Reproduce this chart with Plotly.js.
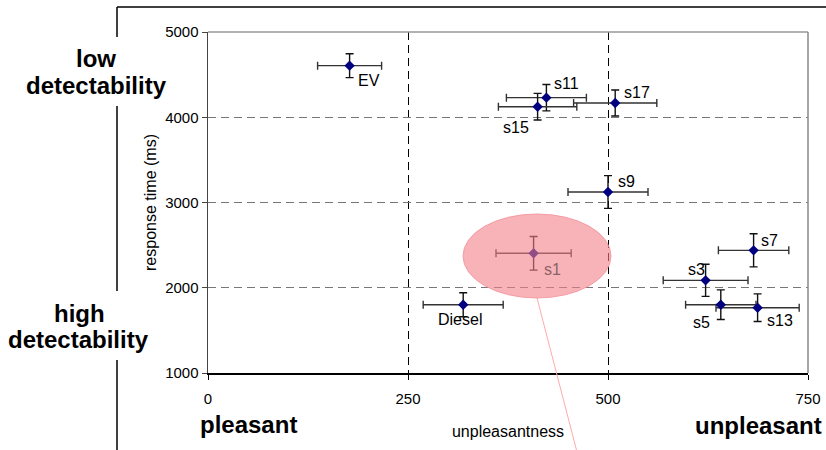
<!DOCTYPE html>
<html>
<head>
<meta charset="utf-8">
<script src="https://cdn.plot.ly/plotly-3.0.1.min.js"></script>
<style>html,body{margin:0;padding:0;background:#fff;}#chart{width:826px;height:450px;}</style>
</head>
<body>
<div id="chart"></div>
<script>
// ---- data ----
const names = ["EV", "s11", "s15", "s17", "s9", "s1", "Diesel", "s7", "s3", "s5", "s13"];
const unpleasantness = [177, 423, 412, 509, 500, 407, 319, 682, 622, 641, 687];
const responseTime = [4605, 4230, 4124, 4167, 3123, 2404, 1801, 2439, 2087, 1801, 1766];
const unpleasantnessErr = [40, 50, 49, 52, 50, 47, 50, 44, 53, 44, 52];
const responseTimeErr = [140, 155, 156, 152, 192, 197, 141, 194, 188, 174, 162];
const xTicks = [0, 250, 500, 750];
const yTicks = [1000, 2000, 3000, 4000, 5000];
const xTitle = "unpleasantness";
const yTitle = "response time (ms)";

// ---- label placement (pixel offsets from each point) ----
const labelShift = {
  "EV": [19, -15], "s11": [20, 14], "s15": [-22, -21], "s17": [22, 11],
  "s9": [18, 11], "s1": [19, -16], "Diesel": [-3, -15], "s7": [16, 10],
  "s3": [-9, 11], "s5": [-19, -18], "s13": [22, -13]
};

const FONT = "Arial, 'Liberation Sans', sans-serif";

const trace = {
  type: "scatter",
  mode: "markers",
  x: unpleasantness,
  y: responseTime,
  text: names,
  marker: {symbol: "diamond", size: 8, color: "#000080"},
  error_x: {type: "data", array: unpleasantnessErr, visible: true, color: "#333", thickness: 1.4, width: 4},
  error_y: {type: "data", array: responseTimeErr, visible: true, color: "#111", thickness: 1.4, width: 4},
  hoverinfo: "text+x+y",
  showlegend: false
};

const annotations = names.map((n, i) => ({
  xref: "x", yref: "y", x: unpleasantness[i], y: responseTime[i],
  text: n, showarrow: false,
  xshift: labelShift[n][0], yshift: labelShift[n][1],
  font: {family: FONT, size: 16, color: n === "s1" ? "#8a6268" : "#000"}
}));

function px2paperX(p) { return (p - 208) / 600; }
function px2paperY(p) { return (373 - p) / 341; }

[
  ["low", 96, 58], ["detectability", 96.5, 85],
  ["high", 79, 313], ["detectability", 78, 339],
  ["pleasant", 248, 424], ["unpleasant", 758, 425]
].forEach(([t, px, py]) => {
  annotations.push({
    xref: "paper", yref: "paper", x: px2paperX(px), y: px2paperY(py),
    xanchor: "center", yanchor: "middle", text: "<b>" + t + "</b>", showarrow: false,
    font: {family: FONT, size: 24, color: "#000"}
  });
});

const shapes = [
  // plot-area border (top and right) in gray
  {type: "line", xref: "paper", yref: "paper", x0: 0, x1: 1, y0: 1, y1: 1, line: {color: "#999", width: 1.5}, layer: "above"},
  {type: "line", xref: "paper", yref: "paper", x0: 1, x1: 1, y0: 0, y1: 1, line: {color: "#888", width: 1.5}, layer: "above"},
  // outer frame lines
  {type: "line", xref: "paper", yref: "paper", x0: px2paperX(117), x1: px2paperX(826), y0: px2paperY(7), y1: px2paperY(7), line: {color: "#000", width: 1.5}},
  {type: "line", xref: "paper", yref: "paper", x0: px2paperX(117), x1: px2paperX(117), y0: px2paperY(7), y1: px2paperY(37), line: {color: "#000", width: 1.5}},
  {type: "line", xref: "paper", yref: "paper", x0: px2paperX(117), x1: px2paperX(117), y0: px2paperY(106), y1: px2paperY(291), line: {color: "#000", width: 1.5}},
  {type: "line", xref: "paper", yref: "paper", x0: px2paperX(117), x1: px2paperX(117), y0: px2paperY(360), y1: px2paperY(452), line: {color: "#000", width: 1.5}},
  // highlight ellipse and its callout line
  {type: "circle", xref: "paper", yref: "paper",
   x0: px2paperX(463), x1: px2paperX(611), y0: px2paperY(298), y1: px2paperY(214),
   fillcolor: "rgba(244,128,138,0.6)", line: {color: "rgba(244,150,160,0.9)", width: 1}, layer: "above"},
  {type: "line", xref: "paper", yref: "paper",
   x0: px2paperX(537), y0: px2paperY(298), x1: px2paperX(577), y1: px2paperY(452),
   line: {color: "#ffaaaa", width: 1}, layer: "above"}
];

const layout = {
  width: 826, height: 450, autosize: false,
  margin: {l: 208, r: 18, t: 32, b: 77, pad: 0},
  paper_bgcolor: "#fff", plot_bgcolor: "#fff",
  font: {family: FONT, size: 15, color: "#000"},
  xaxis: {
    range: [0, 750], tickmode: "array", tickvals: xTicks, ticktext: xTicks.map(String),
    showline: true, linecolor: "#000", linewidth: 1.5,
    ticks: "outside", ticklen: 5, tickcolor: "#000", tickwidth: 1, ticklabelstandoff: 6,
    showgrid: true, gridcolor: "#000", gridwidth: 1, griddash: "8px,5px",
    zeroline: false, tickfont: {family: FONT, size: 15, color: "#000"},
    title: {text: xTitle, font: {family: FONT, size: 16, color: "#000"}, standoff: 20},
    fixedrange: true
  },
  yaxis: {
    range: [1000, 5000], tickmode: "array", tickvals: yTicks, ticktext: yTicks.map(String),
    showline: true, linecolor: "#444", linewidth: 1.5,
    ticks: "outside", ticklen: 5, tickcolor: "#444", tickwidth: 1,
    showgrid: true, gridcolor: "#777", gridwidth: 1, griddash: "8px,5px",
    zeroline: false, tickfont: {family: FONT, size: 15, color: "#000"},
    title: {text: yTitle, font: {family: FONT, size: 16, color: "#000"}, standoff: 4},
    fixedrange: true
  },
  annotations: annotations,
  shapes: shapes
};

Plotly.newPlot("chart", [trace], layout, {displayModeBar: false, staticPlot: true});
</script>
</body>
</html>
